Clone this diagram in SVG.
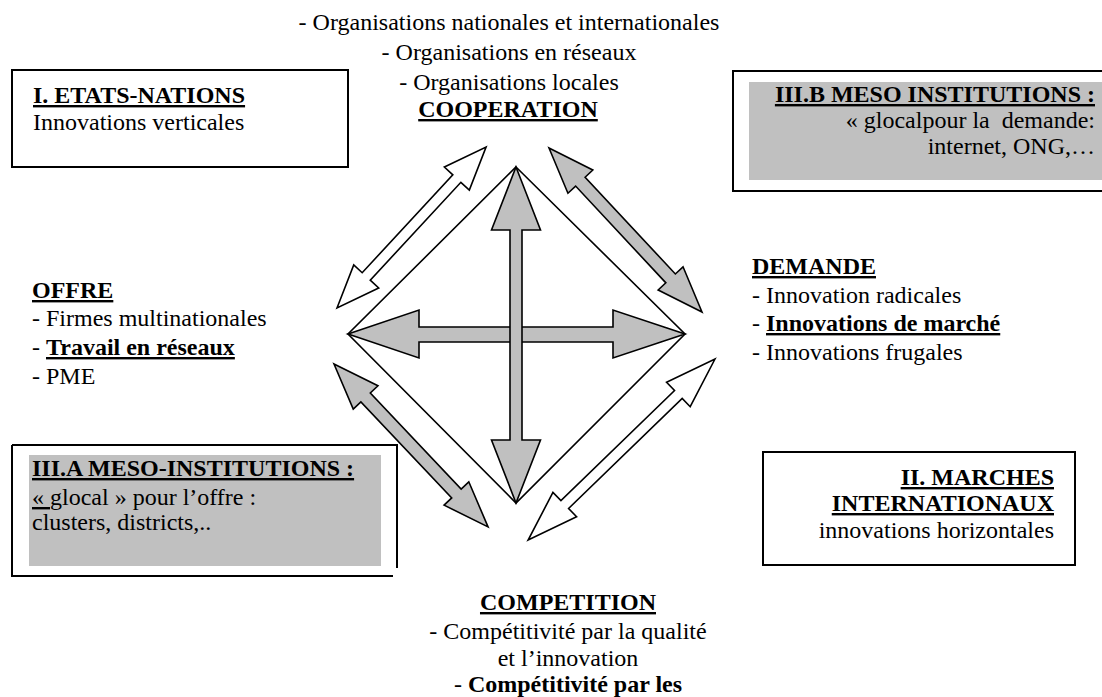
<svg xmlns="http://www.w3.org/2000/svg" width="1102" height="697" viewBox="0 0 1102 697">
<style>
text{font-family:"Liberation Serif","Times New Roman",serif;font-size:24px;fill:#000}
.b{font-weight:bold}
.u{text-decoration:underline}
.box{fill:#fff;stroke:#000;stroke-width:2}
.shade{fill:#c0c0c0;stroke:none}
.ag{fill:#c0c0c0;stroke:#000;stroke-width:1.6;stroke-linejoin:miter}
.aw{fill:#fff;stroke:#000;stroke-width:1.6;stroke-linejoin:miter}
.dia{fill:none;stroke:#000;stroke-width:1.6}
</style>
<rect width="1102" height="697" fill="#fff"/>

<g id="cooperation">
<text x="509" y="30" text-anchor="middle">- Organisations nationales et internationales</text>
<text x="509" y="60" text-anchor="middle">- Organisations en réseaux</text>
<text x="509" y="90" text-anchor="middle">- Organisations locales</text>
<text x="508" y="117" text-anchor="middle" class="b u">COOPERATION</text>
</g>

<g id="etats-nations">
<rect class="box" x="12" y="70" width="336" height="97"/>
<text x="33" y="103" class="b u">I. ETATS-NATIONS</text>
<text x="33" y="130">Innovations verticales</text>
</g>

<g id="meso-b">
<rect class="box" x="733" y="71" width="380" height="120"/>
<rect class="shade" x="749" y="82" width="360" height="98"/>
<text x="1095" y="102" text-anchor="end" class="b u">III.B MESO INSTITUTIONS :</text>
<text x="1095" y="128" text-anchor="end" xml:space="preserve">« glocalpour la  demande:</text>
<text x="1095" y="154" text-anchor="end">internet, ONG,…</text>
</g>

<g id="offre">
<text x="32" y="298" class="b u">OFFRE</text>
<text x="32" y="326">- Firmes multinationales</text>
<text x="32" y="355">- <tspan class="b u">Travail en réseaux</tspan></text>
<text x="32" y="384">- PME</text>
</g>

<g id="demande">
<text x="752" y="274" class="b u">DEMANDE</text>
<text x="752" y="303">- Innovation radicales</text>
<text x="752" y="331">- <tspan class="b u">Innovations de marché</tspan></text>
<text x="752" y="360">- Innovations frugales</text>
</g>

<g id="meso-a">
<rect x="29" y="455" width="352" height="111" class="shade"/>
<path d="M12,445 H397 V568 M12,445 V576 H393" fill="none" stroke="#000" stroke-width="2"/>
<text x="32" y="476" class="b u">III.A MESO-INSTITUTIONS :</text>
<text x="32" y="505"><tspan class="u">« </tspan>glocal » pour l’offre :</text>
<text x="32" y="530">clusters, districts,..</text>
</g>

<g id="marches">
<rect class="box" x="763" y="452" width="312" height="113"/>
<text x="1054" y="485" text-anchor="end" class="b u">II. MARCHES</text>
<text x="1054" y="511" text-anchor="end" class="b u">INTERNATIONAUX</text>
<text x="1054" y="538" text-anchor="end">innovations horizontales</text>
</g>

<g id="competition">
<text x="568" y="610" text-anchor="middle" class="b u">COMPETITION</text>
<text x="568" y="639" text-anchor="middle">- Compétitivité par la qualité</text>
<text x="568" y="666" text-anchor="middle">et l’innovation</text>
<text x="568" y="692" text-anchor="middle">- <tspan class="b">Compétitivité par les</tspan></text>
</g>

<g id="connectors">
<polygon class="dia" points="516,167 685,334 516,503 348,334"/>
<polygon class="ag" points="348,334 419,310 419,327 613,327 613,310 685,334 613,358 613,342 419,342 419,358"/>
<polygon class="ag" points="516,167 540.5,230 522,230 522,440 540.5,440 516,503 491.5,440 510,440 510,230 491.5,230"/>
<polygon class="aw" transform="translate(337,308) rotate(-47.2)" points="0,0 43,-17 43,-5.5 176.4,-5.5 176.4,-17 219.4,0 176.4,17 176.4,5.5 43,5.5 43,17"/>
<polygon class="ag" transform="translate(549,148) rotate(47)" points="0,0 46,-17 46,-6.5 178.3,-6.5 178.3,-17 224.3,0 178.3,17 178.3,6.5 46,6.5 46,17"/>
<polygon class="ag" transform="translate(334,364) rotate(46.6)" points="0,0 46,-17 46,-6.5 178.2,-6.5 178.2,-17 224.2,0 178.2,17 178.2,6.5 46,6.5 46,17"/>
<polygon class="aw" transform="translate(715,359) rotate(135.9)" points="0,0 51,-17 51,-5.5 209.2,-5.5 209.2,-17 260.2,0 209.2,17 209.2,5.5 51,5.5 51,17"/>
</g>
</svg>
